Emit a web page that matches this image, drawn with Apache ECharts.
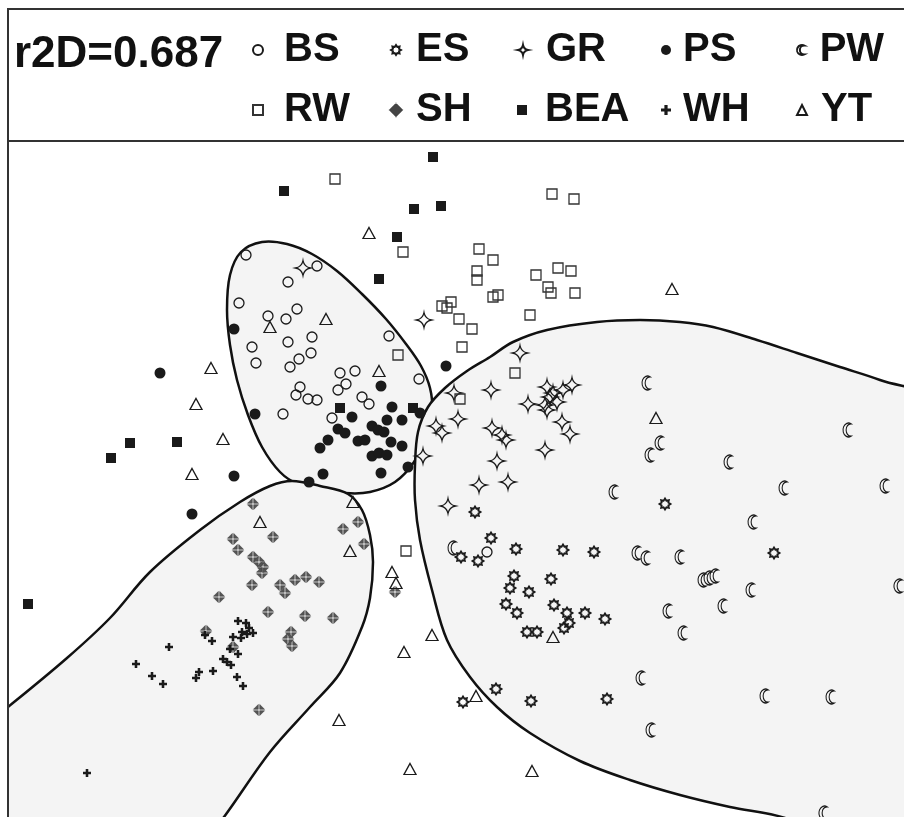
<!DOCTYPE html>
<html>
<head>
<meta charset="utf-8">
<script src="https://cdn.jsdelivr.net/npm/echarts@6/dist/echarts.min.js"></script>
<style>
html,body{margin:0;padding:0;background:#fff;}
#chart{width:904px;height:817px;}
</style>
</head>
<body>
<div id="chart"></div>
<script>
// ---------- data (arbitrary ordination units) ----------
const legendNames = ['BS','ES','GR','PS','PW','RW','SH','BEA','WH','YT'];
const statLabel = 'r2D=0.687';

const BS = [[246,255],[317,266],[288,282],[239,303],[268,316],[286,319],[297,309],[312,337],[288,342],[252,347],[311,353],[299,359],[256,363],[290,367],[340,373],[355,371],[389,336],[419,379],[300,387],[296,395],[308,399],[317,400],[346,384],[338,390],[362,397],[369,404],[332,418],[283,414],[487,552]];
const ES = [[475,512],[491,538],[516,549],[563,550],[461,557],[478,561],[514,576],[510,588],[529,592],[551,579],[506,604],[517,613],[554,605],[567,613],[569,623],[564,628],[585,613],[527,632],[537,632],[594,552],[665,504],[774,553],[605,619],[496,689],[463,702],[531,701],[607,699]];
const GR = [[303,268],[424,320],[520,353],[454,393],[491,390],[458,419],[436,426],[442,433],[423,456],[492,428],[502,435],[506,440],[528,404],[497,461],[479,485],[508,482],[448,506],[545,450],[562,422],[570,434],[547,387],[553,393],[545,405],[557,402],[572,385],[563,390],[550,397],[547,410]];
const PS = [[234,329],[160,373],[446,366],[255,414],[234,476],[192,514],[381,386],[392,407],[420,413],[352,417],[387,420],[402,420],[338,429],[345,433],[372,426],[378,430],[384,432],[328,440],[358,441],[365,440],[391,442],[402,446],[320,448],[372,456],[379,453],[387,455],[408,467],[323,474],[381,473],[309,482]];
const PW = [[646,383],[659,443],[649,455],[728,462],[847,430],[613,492],[783,488],[884,486],[752,522],[636,553],[645,558],[679,557],[702,580],[708,578],[714,576],[750,590],[898,586],[722,606],[667,611],[682,633],[640,678],[764,696],[830,697],[650,730],[823,813],[452,548]];
const RW = [[335,179],[403,252],[479,249],[493,260],[477,271],[477,280],[493,297],[498,295],[442,306],[447,308],[451,302],[459,319],[472,329],[462,347],[398,355],[552,194],[574,199],[536,275],[558,268],[571,271],[548,287],[551,293],[575,293],[530,315],[515,373],[460,399],[406,551]];
const SH = [[253,504],[273,537],[233,539],[238,550],[253,557],[259,562],[263,567],[262,573],[252,585],[280,585],[285,593],[295,580],[219,597],[268,612],[358,522],[343,529],[364,544],[306,577],[319,582],[395,592],[206,631],[233,647],[259,710],[291,632],[288,639],[292,646],[305,616],[333,618]];
const BEA = [[433,157],[284,191],[414,209],[441,206],[397,237],[379,279],[340,408],[413,408],[130,443],[111,458],[177,442],[28,604]];
const WH = [[238,621],[246,623],[249,628],[242,632],[247,634],[253,633],[241,638],[233,637],[205,635],[212,641],[169,647],[230,649],[238,654],[223,659],[227,662],[231,665],[199,672],[196,678],[213,671],[237,677],[243,686],[136,664],[152,676],[163,684],[87,773]];
const YT = [[369,233],[270,327],[326,319],[211,368],[379,371],[672,289],[196,404],[223,439],[192,474],[260,522],[353,502],[350,551],[392,572],[396,583],[656,418],[432,635],[404,652],[476,696],[553,637],[339,720],[410,769],[532,771]];

// group outlines (hull vertices)
const hullTop = [[262,242],[287,244],[312,254],[337,271],[362,294],[386,319],[406,344],[421,366],[430,388],[432,410],[426,436],[414,462],[395,482],[370,492],[345,493],[320,488],[298,484],[280,472],[262,447],[248,415],[237,380],[230,345],[227,310],[230,275],[241,252]];
const hullLeft = [[-40,745],[8,707],[67,658],[110,618],[150,572],[200,530],[240,502],[270,486],[292,481],[320,486],[348,494],[362,510],[370,535],[373,562],[370,598],[362,627],[340,673],[310,707],[270,752],[224,817],[175,880],[60,905],[-40,845]];
const hullRight = [[415,465],[418,432],[428,407],[445,388],[467,371],[490,357],[513,342],[547,330],[597,322],[640,320],[680,322],[713,327],[757,340],[797,353],[840,367],[880,380],[940,405],[990,600],[970,840],[870,855],[785,818],[730,807],[680,795],[630,780],[580,761],[530,733],[497,707],[470,677],[447,640],[432,590],[420,540],[415,500]];

// ---------- symbols ----------
function starPath(n, r1, r2) {
  let s = '';
  for (let i = 0; i < 2 * n; i++) {
    const r = i % 2 ? r2 : r1;
    const a = -Math.PI / 2 + i * Math.PI / n;
    s += (i ? 'L' : 'M') + (r * Math.cos(a)).toFixed(2) + ',' + (r * Math.sin(a)).toFixed(2);
  }
  return 'path://' + s + 'Z';
}
const SYM = {
  BS: 'circle',
  ES: starPath(8, 10, 6.6),
  GR: 'path://M0,-10Q1.6,-1.6 10,0Q1.6,1.6 0,10Q-1.6,1.6 -10,0Q-1.6,-1.6 0,-10Z',
  PS: 'circle',
  PW: 'path://M14,2A9,9 0 1,0 14,18A8,8 0 0,1 14,2Z',
  RW: 'rect',
  SH: 'path://M1.1,-1.1L1.1,-8.3L8.3,-1.1ZM-1.1,-1.1L-1.1,-8.3L-8.3,-1.1ZM1.1,1.1L1.1,8.3L8.3,1.1ZM-1.1,1.1L-1.1,8.3L-8.3,1.1Z',
  BEA: 'rect',
  WH: 'path://M-1.6,-5L1.6,-5L1.6,-1.6L5,-1.6L5,1.6L1.6,1.6L1.6,5L-1.6,5L-1.6,1.6L-5,1.6L-5,-1.6L-1.6,-1.6Z',
  YT: 'triangle'
};
const INK = '#1a1a1a';
const STYLE = {
  BS: {size: 10, item: {color: 'transparent', borderColor: INK, borderWidth: 1.3}},
  ES: {size: 11, item: {color: 'transparent', borderColor: INK, borderWidth: 1.8}},
  GR: {size: 15, item: {color: 'transparent', borderColor: INK, borderWidth: 1.3}},
  PS: {size: 11, item: {color: INK}},
  PW: {size: [11, 14], item: {color: 'transparent', borderColor: INK, borderWidth: 1.2}},
  RW: {size: 10, item: {color: 'transparent', borderColor: '#333', borderWidth: 1.3}},
  SH: {size: 11, item: {color: '#555', borderColor: '#444', borderWidth: 0.6}},
  BEA: {size: 10, item: {color: INK}},
  WH: {size: 8, item: {color: INK}},
  YT: {size: [12, 11], item: {color: 'transparent', borderColor: INK, borderWidth: 1.3}}
};
const DATA = {BS, ES, GR, PS, PW, RW, SH, BEA, WH, YT};

// ---------- chart ----------
const chart = echarts.init(document.getElementById('chart'), null, {renderer: 'canvas'});
const FONT = "'Liberation Sans Narrow','Arial Narrow','Liberation Sans',Arial,sans-serif";

function hullSeries(points) {
  return {
    type: 'custom',
    coordinateSystem: 'cartesian2d',
    clip: true,
    silent: true,
    z: 1,
    data: points,
    renderItem: function (params, api) {
      if (params.dataIndex !== 0) return null;
      const pts = points.map(p => api.coord(p));
      return {
        type: 'polygon',
        shape: {points: pts, smooth: 0.35},
        style: {fill: '#f4f4f4', stroke: '#111', lineWidth: 2.5}
      };
    }
  };
}

const colIcon = [257, 395, 522, 666, 801];
const colText = [283, 415, 545, 683, 820];
const rowMid = [55, 115];
const legends = legendNames.map((name, i) => {
  const col = i % 5, row = Math.floor(i / 5);
  const iw = 10;
  const gap = colText[col] - colIcon[col] - iw / 2 - 5;
  return {
    data: [{name: name, icon: SYM[name]}],
    left: colIcon[col] - iw / 2,
    top: rowMid[row] - 25,
    padding: 0,
    itemWidth: iw,
    itemHeight: 10,
    selectedMode: false,
    formatter: '{g| }' + '{t|' + name + '}',
    textStyle: {
      rich: {
        g: {width: gap, fontSize: 10, lineHeight: 50},
        t: {fontSize: 40, fontWeight: 'bold', fontFamily: FONT, color: '#111', lineHeight: 50}
      }
    }
  };
});

const series = [hullSeries(hullTop), hullSeries(hullLeft), hullSeries(hullRight)];
legendNames.forEach(name => {
  series.push({
    name: name,
    type: 'scatter',
    symbol: SYM[name],
    symbolSize: STYLE[name].size,
    symbolKeepAspect: true,
    itemStyle: Object.assign({opacity: 1}, STYLE[name].item),
    emphasis: {disabled: true},
    z: 3,
    data: DATA[name]
  });
});

chart.setOption({
  animation: false,
  backgroundColor: '#fff',
  title: {
    text: statLabel,
    left: 14,
    top: 55 - 25,
    padding: 0,
    textStyle: {fontSize: 44, fontWeight: 'bold', fontFamily: FONT, color: '#111', lineHeight: 50}
  },
  legend: legends,
  grid: {left: 8, top: 141, right: 0, bottom: 0, containLabel: false},
  xAxis: {type: 'value', min: 8, max: 904, show: false},
  yAxis: {type: 'value', min: 141, max: 817, inverse: true, show: false},
  tooltip: {show: false},
  series: series,
  graphic: [
    {type: 'rect', z: 100, silent: true, shape: {x: 8, y: 9, width: 910, height: 830},
     style: {fill: null, stroke: '#333', lineWidth: 2}},
    {type: 'line', z: 100, silent: true, shape: {x1: 8, y1: 141, x2: 904, y2: 141},
     style: {stroke: '#333', lineWidth: 2}}
  ]
});
</script>
</body>
</html>
